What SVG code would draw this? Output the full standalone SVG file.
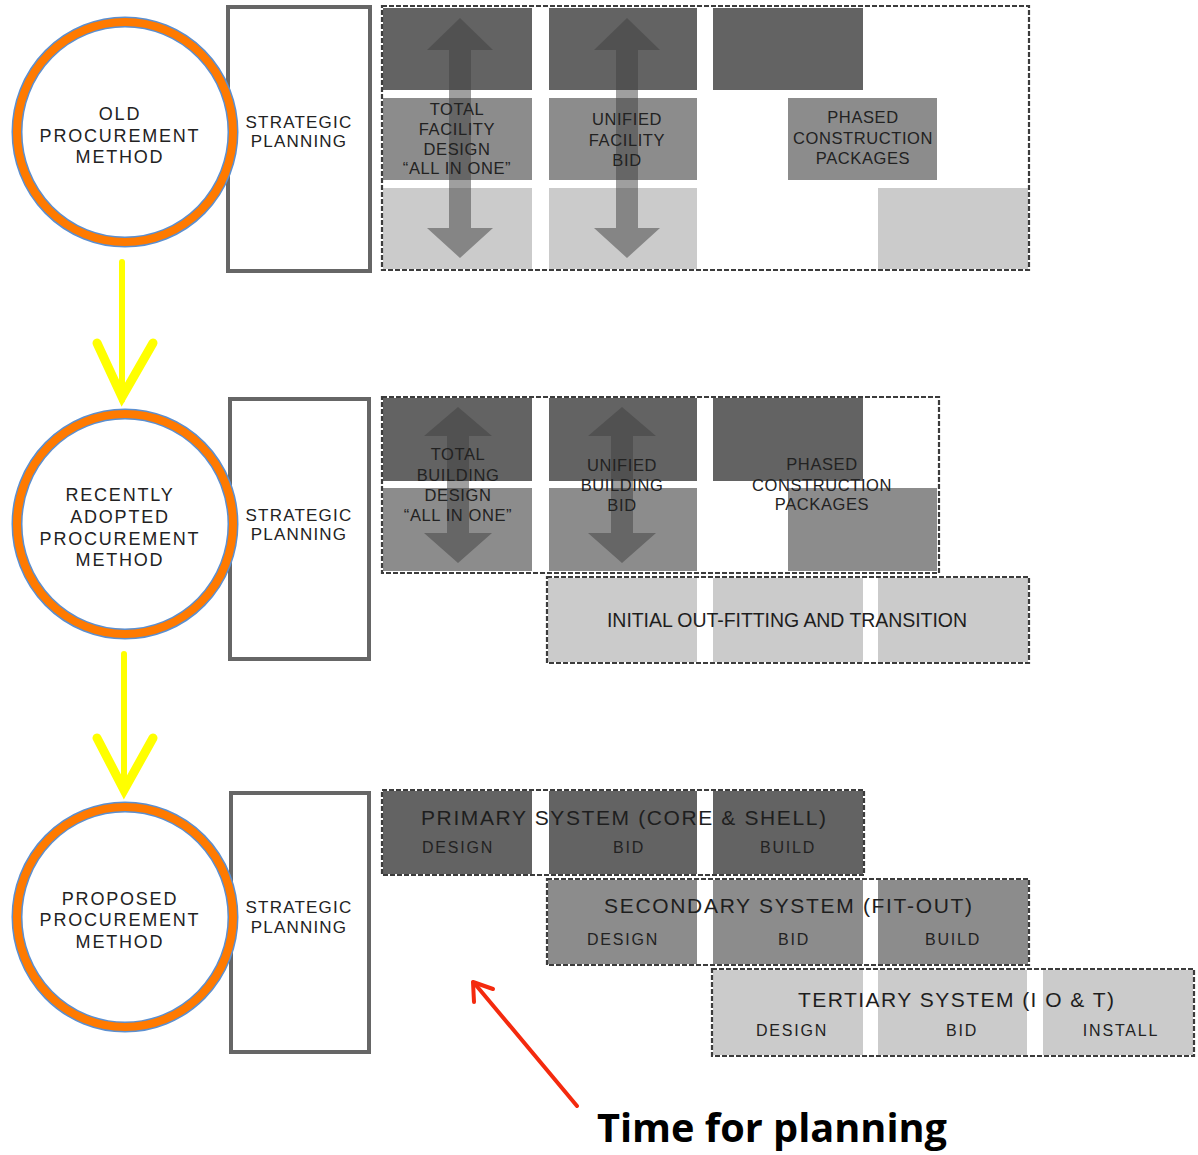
<svg xmlns="http://www.w3.org/2000/svg" width="1198" height="1155" viewBox="0 0 1198 1155">
<defs>
<style>
.dash{fill:none;stroke:#3c3c3c;stroke-width:2.2;stroke-dasharray:5 2}
.dk{fill:#636363}
.md{fill:#8c8c8c}
.lt{fill:#cbcbcb}
.dbl{fill:#3f3f3f;fill-opacity:0.5}
.sp{fill:#fff;stroke:#666;stroke-width:4}
.ring-b{fill:#fff;stroke:#5b8fd0;stroke-width:11}
.ring-o{fill:none;stroke:#ff7a00;stroke-width:8}
.t{font-family:"Liberation Sans",Arial,sans-serif;fill:#222;text-anchor:middle}
.c{font-size:18px;letter-spacing:1.8px}
.s{font-size:17px;letter-spacing:1.2px}
.g{font-size:16.5px;letter-spacing:0.6px}
.ti{font-family:"Liberation Sans",Arial,sans-serif;fill:#1e1e1e;font-size:21px}
.sub{font-size:16px;letter-spacing:1.8px}
.yl{stroke:#ffff00;fill:none;stroke-linecap:round}
</style>
</defs>

<!-- strategic planning boxes -->
<g id="sp1"><rect class="sp" x="228" y="7" width="142" height="264"/><text class="t s" x="299" y="128">STRATEGIC</text><text class="t s" x="299" y="147">PLANNING</text></g>
<g id="sp2"><rect class="sp" x="230" y="399" width="139" height="260"/><text class="t s" x="299" y="521">STRATEGIC</text><text class="t s" x="299" y="540">PLANNING</text></g>
<g id="sp3"><rect class="sp" x="231" y="793" width="138" height="259"/><text class="t s" x="299" y="913">STRATEGIC</text><text class="t s" x="299" y="933">PLANNING</text></g>

<!-- circles -->
<g id="old"><ellipse class="ring-b" cx="125" cy="132" rx="108" ry="110"/><ellipse class="ring-o" cx="125" cy="132" rx="108" ry="110"/>
<text class="t c" x="120" y="120">OLD</text><text class="t c" x="120" y="142">PROCUREMENT</text><text class="t c" x="120" y="163">METHOD</text></g>
<g id="recent"><ellipse class="ring-b" cx="125" cy="524" rx="108" ry="110"/><ellipse class="ring-o" cx="125" cy="524" rx="108" ry="110"/>
<text class="t c" x="120" y="501">RECENTLY</text><text class="t c" x="120" y="523">ADOPTED</text><text class="t c" x="120" y="545">PROCUREMENT</text><text class="t c" x="120" y="566">METHOD</text></g>
<g id="proposed"><ellipse class="ring-b" cx="125" cy="917" rx="108" ry="110"/><ellipse class="ring-o" cx="125" cy="917" rx="108" ry="110"/>
<text class="t c" x="120" y="905">PROPOSED</text><text class="t c" x="120" y="926">PROCUREMENT</text><text class="t c" x="120" y="948">METHOD</text></g>

<!-- top section -->
<g id="top">
<rect class="dk" x="383" y="8" width="149" height="82"/>
<rect class="dk" x="549" y="8" width="148" height="82"/>
<rect class="dk" x="713" y="8" width="150" height="82"/>
<rect class="md" x="383" y="98" width="149" height="82"/>
<rect class="md" x="549" y="98" width="148" height="82"/>
<rect class="md" x="788" y="98" width="149" height="82"/>
<rect class="lt" x="383" y="188" width="149" height="81"/>
<rect class="lt" x="549" y="188" width="148" height="81"/>
<rect class="lt" x="878" y="188" width="150" height="81"/>
<path class="dbl" d="M460,18 L493,50 L471,50 L471,228 L493,228 L460,258 L427,228 L449,228 L449,50 L427,50 Z"/>
<path class="dbl" d="M627,18 L660,50 L638,50 L638,228 L660,228 L627,258 L594,228 L616,228 L616,50 L594,50 Z"/>
<rect class="dash" x="382" y="6" width="647" height="264"/>
<text class="t g" x="457" y="115">TOTAL</text><text class="t g" x="457" y="135">FACILITY</text><text class="t g" x="457" y="155">DESIGN</text><text class="t g" x="457" y="174">“ALL IN ONE”</text>
<text class="t g" x="627" y="125">UNIFIED</text><text class="t g" x="627" y="146">FACILITY</text><text class="t g" x="627" y="166">BID</text>
<text class="t g" x="863" y="123">PHASED</text><text class="t g" x="863" y="144">CONSTRUCTION</text><text class="t g" x="863" y="164">PACKAGES</text>
</g>

<!-- middle section -->
<g id="middle">
<rect class="dk" x="383" y="398" width="149" height="83"/>
<rect class="dk" x="549" y="398" width="148" height="83"/>
<rect class="dk" x="713" y="398" width="150" height="83"/>
<rect class="md" x="383" y="488" width="149" height="83"/>
<rect class="md" x="549" y="488" width="148" height="83"/>
<rect class="md" x="788" y="488" width="149" height="83"/>
<path class="dbl" d="M458,407 L492,436 L469,436 L469,533 L492,533 L458,563 L424,533 L447,533 L447,436 L424,436 Z"/>
<path class="dbl" d="M622,407 L656,436 L633,436 L633,533 L656,533 L622,563 L588,533 L611,533 L611,436 L588,436 Z"/>
<rect class="dash" x="382" y="397" width="557" height="176"/>
<text class="t g" x="458" y="460">TOTAL</text><text class="t g" x="458" y="481">BUILDING</text><text class="t g" x="458" y="501">DESIGN</text><text class="t g" x="458" y="521">“ALL IN ONE”</text>
<text class="t g" x="622" y="471">UNIFIED</text><text class="t g" x="622" y="491">BUILDING</text><text class="t g" x="622" y="511">BID</text>
<text class="t g" x="822" y="470">PHASED</text><text class="t g" x="822" y="491">CONSTRUCTION</text><text class="t g" x="822" y="510">PACKAGES</text>
</g>
<g id="transition">
<rect class="lt" x="548" y="578" width="149" height="84"/>
<rect class="lt" x="713" y="578" width="150" height="84"/>
<rect class="lt" x="878" y="578" width="150" height="84"/>
<rect class="dash" x="547" y="577" width="482" height="86"/>
<text class="ti" x="607" y="627" font-size="19.5" textLength="360" lengthAdjust="spacing" style="font-size:19.5px">INITIAL OUT-FITTING AND TRANSITION</text>
</g>

<!-- bottom section -->
<g id="primary">
<rect class="dk" x="383" y="791" width="149" height="83"/>
<rect class="dk" x="549" y="791" width="148" height="83"/>
<rect class="dk" x="713" y="791" width="150" height="83"/>
<rect class="dash" x="382" y="790" width="482" height="85"/>
<text class="ti" x="421" y="825" textLength="405" lengthAdjust="spacing">PRIMARY SYSTEM (CORE &amp; SHELL)</text>
<text class="t sub" x="458" y="853">DESIGN</text><text class="t sub" x="629" y="853">BID</text><text class="t sub" x="788" y="853">BUILD</text>
</g>
<g id="secondary">
<rect class="md" x="548" y="880" width="149" height="84"/>
<rect class="md" x="713" y="880" width="150" height="84"/>
<rect class="md" x="878" y="880" width="150" height="84"/>
<rect class="dash" x="547" y="879" width="482" height="86"/>
<text class="ti" x="604" y="913" textLength="368" lengthAdjust="spacing">SECONDARY SYSTEM (FIT-OUT)</text>
<text class="t sub" x="623" y="945">DESIGN</text><text class="t sub" x="794" y="945">BID</text><text class="t sub" x="953" y="945">BUILD</text>
</g>
<g id="tertiary">
<rect class="lt" x="713" y="970" width="150" height="85"/>
<rect class="lt" x="878" y="970" width="149" height="85"/>
<rect class="lt" x="1043" y="970" width="150" height="85"/>
<rect class="dash" x="712" y="969" width="482" height="87"/>
<text class="ti" x="798" y="1007" textLength="316" lengthAdjust="spacing">TERTIARY SYSTEM (I O &amp; T)</text>
<text class="t sub" x="792" y="1036">DESIGN</text><text class="t sub" x="962" y="1036">BID</text><text class="t sub" x="1121" y="1036">INSTALL</text>
</g>

<!-- connectors -->
<g id="connectors">
<line class="yl" x1="122" y1="262" x2="122" y2="400" stroke-width="6"/>
<polyline class="yl" points="97,343 122,397 153,343" stroke-width="9" stroke-linejoin="miter"/>
<line class="yl" x1="124" y1="654" x2="124" y2="792" stroke-width="6"/>
<polyline class="yl" points="97,738 124,790 153,738" stroke-width="9" stroke-linejoin="miter"/>
<line x1="577" y1="1106" x2="475" y2="984" stroke="#f42a0e" stroke-width="4" stroke-linecap="round"/>
<polyline points="493,989 473,982 474,1002" fill="none" stroke="#f42a0e" stroke-width="4" stroke-linecap="round" stroke-linejoin="round"/>
</g>

<text id="time" x="597" y="1142" font-family="'Open Sans','Liberation Sans',sans-serif" font-weight="700" font-size="40" fill="#000" textLength="350" lengthAdjust="spacingAndGlyphs">Time for planning</text>
</svg>
